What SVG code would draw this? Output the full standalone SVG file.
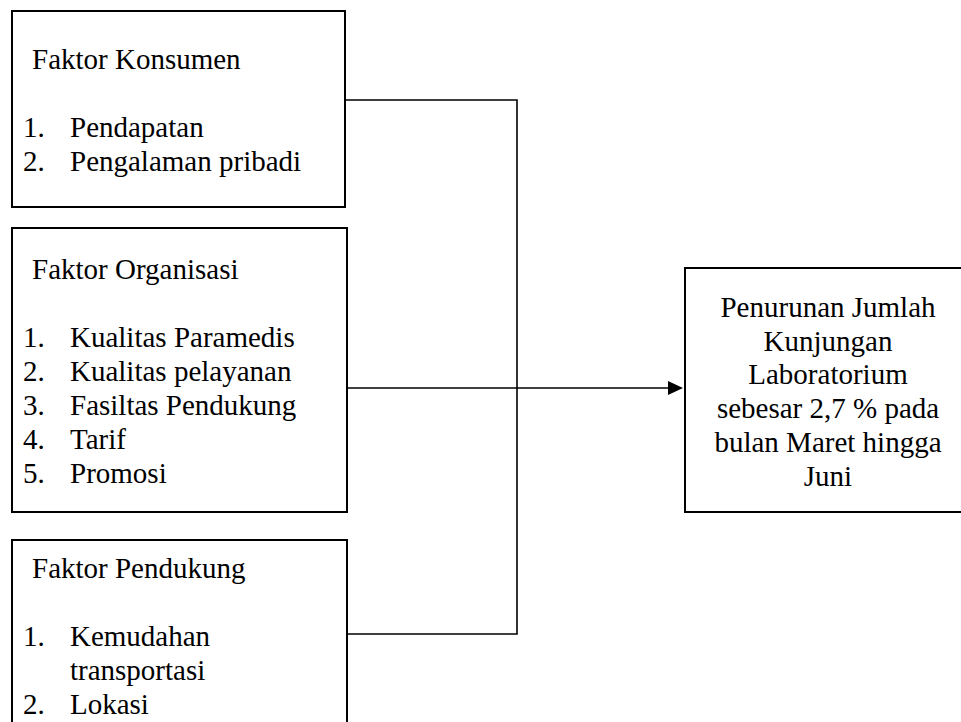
<svg xmlns="http://www.w3.org/2000/svg" width="961" height="722" viewBox="0 0 961 722">
<style>
.box{fill:#fff;stroke:#000;stroke-width:2}
.t{font-family:'Liberation Serif',serif;font-size:29px;fill:#000}
.c{text-anchor:middle}
.ln{fill:none;stroke:#000;stroke-width:1.6}
</style>
<rect width="961" height="722" fill="#fff"/>
<g id="connectors">
<path class="ln" d="M346,100 H517 V634 H347"/>
<path class="ln" d="M347,388 H517"/>
<line class="ln" x1="517" y1="388" x2="668" y2="388"/>
<path d="M668,381 L683,388 L668,395 Z" fill="#000"/>
</g>
<g id="faktor-konsumen">
<rect class="box" x="12" y="11" width="333" height="196"/>
<text class="t" x="32" y="69">Faktor Konsumen</text>
<text class="t" x="23" y="137">1.</text>
<text class="t" x="70" y="137">Pendapatan</text>
<text class="t" x="23" y="171">2.</text>
<text class="t" x="70" y="171">Pengalaman pribadi</text>
</g>
<g id="faktor-organisasi">
<rect class="box" x="12" y="228" width="335" height="284"/>
<text class="t" x="32" y="279">Faktor Organisasi</text>
<text class="t" x="23" y="347">1.</text>
<text class="t" x="70" y="347">Kualitas Paramedis</text>
<text class="t" x="23" y="381">2.</text>
<text class="t" x="70" y="381">Kualitas pelayanan</text>
<text class="t" x="23" y="415">3.</text>
<text class="t" x="70" y="415">Fasiltas Pendukung</text>
<text class="t" x="23" y="449">4.</text>
<text class="t" x="70" y="449">Tarif</text>
<text class="t" x="23" y="483">5.</text>
<text class="t" x="70" y="483">Promosi</text>
</g>
<g id="faktor-pendukung">
<rect class="box" x="12" y="540" width="335" height="200"/>
<text class="t" x="32" y="578">Faktor Pendukung</text>
<text class="t" x="23" y="646">1.</text>
<text class="t" x="70" y="646">Kemudahan</text>
<text class="t" x="70" y="680">transportasi</text>
<text class="t" x="23" y="714">2.</text>
<text class="t" x="70" y="714">Lokasi</text>
</g>
<g id="penurunan">
<rect class="box" x="685" y="268" width="290" height="244"/>
<text class="t c" x="828" y="317">Penurunan Jumlah</text>
<text class="t c" x="828" y="351">Kunjungan</text>
<text class="t c" x="828" y="384">Laboratorium</text>
<text class="t c" x="828" y="418">sebesar 2,7 % pada</text>
<text class="t c" x="828" y="452">bulan Maret hingga</text>
<text class="t c" x="828" y="486">Juni</text>
</g>
</svg>
